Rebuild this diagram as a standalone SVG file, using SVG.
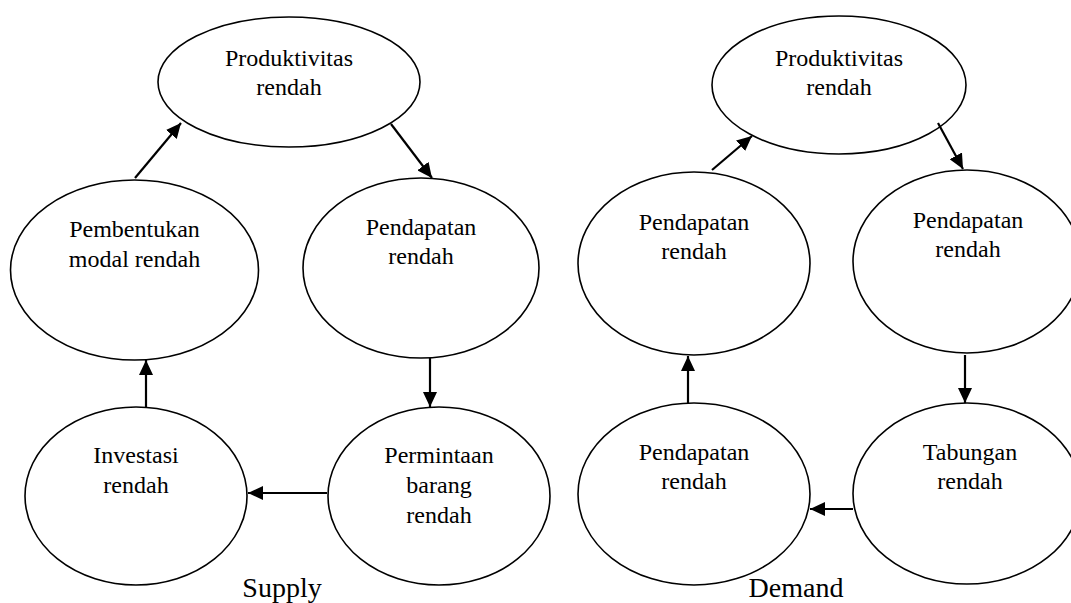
<svg xmlns="http://www.w3.org/2000/svg" width="1071" height="603" viewBox="0 0 1071 603">
<style>
.n{fill:#fff;stroke:#000;stroke-width:1.6}
.t{font-family:"Liberation Serif","Times New Roman",serif;font-size:24px;fill:#000;text-anchor:middle}
.lb{font-family:"Liberation Serif","Times New Roman",serif;font-size:28px;fill:#000;text-anchor:middle}
.c{stroke:#000;stroke-width:2.2;fill:none;marker-end:url(#ah)}
</style>
<defs>
<marker id="ah" markerUnits="userSpaceOnUse" markerWidth="16" markerHeight="14" refX="15" refY="7" orient="auto">
<path d="M0,0 L15,7 L0,14 z" fill="#000"/>
</marker>
</defs>
<rect width="1071" height="603" fill="#fff"/>
<g id="L1"><ellipse class="n" cx="289" cy="82" rx="131" ry="65"/><text class="t" x="289" y="66">Produktivitas</text><text class="t" x="289" y="95">rendah</text></g>
<g id="L2"><ellipse class="n" cx="134.5" cy="270" rx="124" ry="90"/><text class="t" x="134.5" y="237">Pembentukan</text><text class="t" x="134.5" y="267">modal rendah</text></g>
<g id="L3"><ellipse class="n" cx="421" cy="268" rx="118" ry="90"/><text class="t" x="421" y="235">Pendapatan</text><text class="t" x="421" y="264">rendah</text></g>
<g id="L4"><ellipse class="n" cx="136" cy="496" rx="111" ry="89"/><text class="t" x="136" y="463">Investasi</text><text class="t" x="136" y="493">rendah</text></g>
<g id="L5"><ellipse class="n" cx="439" cy="496" rx="111" ry="89"/><text class="t" x="439" y="463">Permintaan</text><text class="t" x="439" y="493">barang</text><text class="t" x="439" y="523">rendah</text></g>
<g id="R1"><ellipse class="n" cx="839" cy="85" rx="127" ry="69"/><text class="t" x="839" y="66">Produktivitas</text><text class="t" x="839" y="95">rendah</text></g>
<g id="R2"><ellipse class="n" cx="694" cy="263.5" rx="116" ry="91.5"/><text class="t" x="694" y="230">Pendapatan</text><text class="t" x="694" y="259">rendah</text></g>
<g id="R3"><ellipse class="n" cx="967" cy="261.5" rx="114" ry="91.5"/><text class="t" x="968" y="228">Pendapatan</text><text class="t" x="968" y="257">rendah</text></g>
<g id="R4"><ellipse class="n" cx="694" cy="494" rx="116" ry="91"/><text class="t" x="694" y="460">Pendapatan</text><text class="t" x="694" y="489">rendah</text></g>
<g id="R5"><ellipse class="n" cx="967" cy="493.5" rx="114" ry="90.5"/><text class="t" x="970" y="460">Tabungan</text><text class="t" x="970" y="489">rendah</text></g>
<g id="labels"><text class="lb" x="282" y="597">Supply</text><text class="lb" x="796" y="597">Demand</text></g>
<g id="connectors">
<line class="c" x1="135" y1="178" x2="181" y2="123"/>
<line class="c" x1="391" y1="124" x2="432" y2="178"/>
<line class="c" x1="430" y1="358" x2="430" y2="407"/>
<line class="c" x1="327" y1="493" x2="248" y2="493"/>
<line class="c" x1="146" y1="407" x2="146" y2="360"/>
<line class="c" x1="712" y1="170" x2="752" y2="136"/>
<line class="c" x1="938" y1="123" x2="963" y2="169"/>
<line class="c" x1="965" y1="355" x2="965" y2="403"/>
<line class="c" x1="853" y1="509" x2="810" y2="509"/>
<line class="c" x1="688" y1="403" x2="688" y2="356"/>
</g>
</svg>
